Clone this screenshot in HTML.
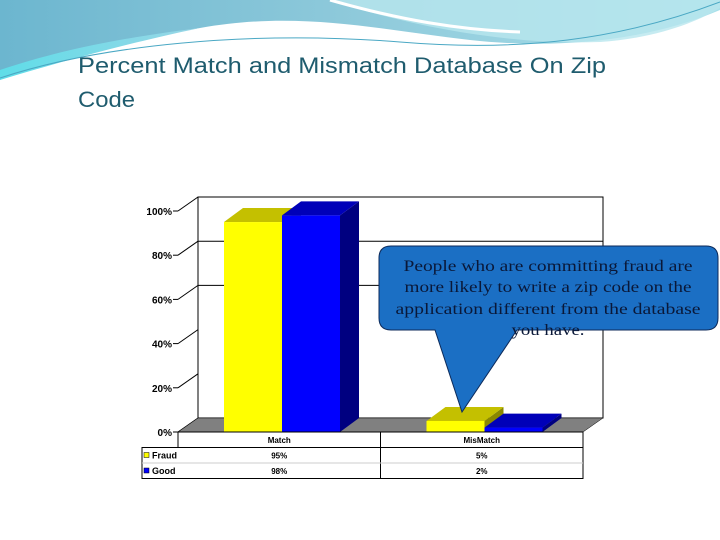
<!DOCTYPE html>
<html><head><meta charset="utf-8"><style>
html,body{margin:0;padding:0;width:720px;height:540px;overflow:hidden;background:#fff;font-family:"Liberation Sans",sans-serif}
</style></head><body>
<svg width="720" height="540" viewBox="0 0 720 540" xmlns="http://www.w3.org/2000/svg">
<defs>
<linearGradient id="wave" x1="0" y1="0" x2="1" y2="0">
<stop offset="0" stop-color="#6cb6cf"/><stop offset="0.5" stop-color="#8fcadb"/><stop offset="1" stop-color="#a9e0ea"/></linearGradient>
<linearGradient id="wave2" x1="0" y1="0" x2="1" y2="0">
<stop offset="0" stop-color="#5fdde8"/><stop offset="1" stop-color="#9ad6e6"/></linearGradient>
</defs>
<g>
<path d="M0 0 H720 V10 C650 40 560 50 470 40 C380 30 300 10 200 28 C120 40 50 60 0 80 Z" fill="url(#wave)"/>
<path d="M0 70 C60 50 120 38 200 28 C120 45 60 62 0 80 Z" fill="url(#wave2)"/>
<path d="M330 0 C420 30 520 45 600 42 C660 38 700 20 720 8 V0 Z" fill="#b8e6ee" opacity="0.8"/>
<path d="M330 0 C400 20 460 30 520 32" stroke="#fff" stroke-width="3" fill="none"/>
<path d="M0 78 C100 45 250 30 400 42 C520 52 620 40 720 2" stroke="#4aa8c4" stroke-width="1" fill="none"/>
</g>
<text x="78" y="73" font-family="Liberation Sans, sans-serif" font-size="22" fill="#1f5c6e" textLength="528" lengthAdjust="spacingAndGlyphs">Percent Match and Mismatch Database On Zip</text>
<text x="78" y="107" font-family="Liberation Sans, sans-serif" font-size="22" fill="#1f5c6e" textLength="57" lengthAdjust="spacingAndGlyphs">Code</text>
<g id="chart"></g>
<g>
<path d="M391 246 H706 Q718 246 718 258 V318 Q718 330 706 330 H517 L462 412 L435 330 H391 Q379 330 379 318 V258 Q379 246 391 246 Z" fill="#1b6fc4" stroke="#0d2a5a" stroke-width="1"/>
<g font-family="Liberation Serif, serif" font-size="16" fill="#0a1838" text-anchor="middle" lengthAdjust="spacingAndGlyphs">
<text x="548" y="271" textLength="289" lengthAdjust="spacingAndGlyphs">People who are committing fraud are</text>
<text x="548" y="292" textLength="287" lengthAdjust="spacingAndGlyphs">more likely to write a zip code on the</text>
<text x="548" y="314" textLength="305" lengthAdjust="spacingAndGlyphs">application different from the database</text>
<text x="548" y="335" textLength="73" lengthAdjust="spacingAndGlyphs">you have.</text>
</g>
</g>
</svg>
<script>
const categories=["Match","MisMatch"];
const seriesNames=["Fraud","Good"];
const fraud=[95,5];
const good=[98,2];
const tickLabels=["0%","20%","40%","60%","80%","100%"];
const tickVals=[0,20,40,60,80,100];
const gridVals=[60,80];
const NS="http://www.w3.org/2000/svg";
const g=document.getElementById('chart');
function el(t,a,p){const e=document.createElementNS(NS,t);for(const k in a)e.setAttribute(k,a[k]);(p||g).appendChild(e);return e;}
const y0=432,ky=2.21,dx=20,dy=-14,x0=178,x1=583;
const yS=v=>y0-v*ky;
const wall=el('rect',{x:x0+dx,y:yS(100)+dy,width:x1-x0,height:(y0+dy)-(yS(100)+dy),fill:'#fff',stroke:'#000','stroke-width':1});

gridVals.forEach(v=>{const gl=el('line',{x1:x0+dx,x2:x1+dx,y1:yS(v)+dy,y2:yS(v)+dy,stroke:'#000'});
  });
tickVals.forEach((v,i)=>{
  const dl=el('line',{x1:x0,y1:yS(v),x2:x0+dx,y2:yS(v)+dy,stroke:'#000'});
  
  const tk=el('line',{x1:x0-5,y1:yS(v),x2:x0,y2:yS(v),stroke:'#000'});
  
  const t=el('text',{x:x0-6,y:yS(v)+4,'text-anchor':'end','font-size':10,'font-weight':'bold',fill:'#000'});
  t.textContent=tickLabels[i];
});
const floor=el('polygon',{points:`${x0},${y0} ${x0+dx},${y0+dy} ${x1+dx},${y0+dy} ${x1},${y0}`,fill:'#808080',stroke:'#000','stroke-width':0.5});

const catW=(x1-x0)/categories.length,bw=58,bdx=19,bdy=-14;
const cols=[{f:'#ffff00',t:'#c4c000',s:'#8a8800'},{f:'#0000ff',t:'#0000b8',s:'#000080'}];
categories.forEach((c,i)=>{
  const start=x0+i*catW+46;
  [fraud[i],good[i]].forEach((v,j)=>{
    const x=start+j*bw,yt=yS(v),cl=cols[j];
    const grp=el('g',{});
    el('polygon',{points:`${x+bw},${y0} ${x+bw+bdx},${y0+bdy} ${x+bw+bdx},${yt+bdy} ${x+bw},${yt}`,fill:cl.s},grp);
    el('polygon',{points:`${x},${yt} ${x+bdx},${yt+bdy} ${x+bw+bdx},${yt+bdy} ${x+bw},${yt}`,fill:cl.t},grp);
    el('rect',{x:x,y:yt,width:bw,height:y0-yt,fill:cl.f},grp);
  });
});
const tl=142,rowH=15.5,ty=y0;
const tb=el('g',{});
el('rect',{x:x0,y:ty,width:x1-x0,height:rowH,fill:'#fff',stroke:'#000'},tb);
el('rect',{x:tl,y:ty+rowH,width:x1-tl,height:rowH*2,fill:'#fff',stroke:'#000'},tb);
el('line',{x1:x0+catW,x2:x0+catW,y1:ty,y2:ty+rowH*3,stroke:'#000'},tb);
el('line',{x1:tl,x2:x1,y1:ty+rowH*2,y2:ty+rowH*2,stroke:'#ccc'},tb);
categories.forEach((c,i)=>{
  const t=el('text',{x:x0+catW*(i+0.5),y:ty+11,'text-anchor':'middle','font-size':8,'font-weight':'bold'},tb);t.textContent=c;
});
[fraud,good].forEach((s,j)=>{
  const ry=ty+rowH*(j+1);
  el('rect',{x:tl+2,y:ry+5,width:5,height:5,fill:cols[j].f,stroke:'#000','stroke-width':0.5},tb);
  const n=el('text',{x:tl+10,y:ry+11,'font-size':9,'font-weight':'bold'},tb);n.textContent=seriesNames[j];
  s.forEach((v,i)=>{const t=el('text',{x:x0+catW*(i+0.5),y:ry+11,'text-anchor':'middle','font-size':8,'font-weight':'bold'},tb);t.textContent=v+'%';});
});
</script>
</body></html>
